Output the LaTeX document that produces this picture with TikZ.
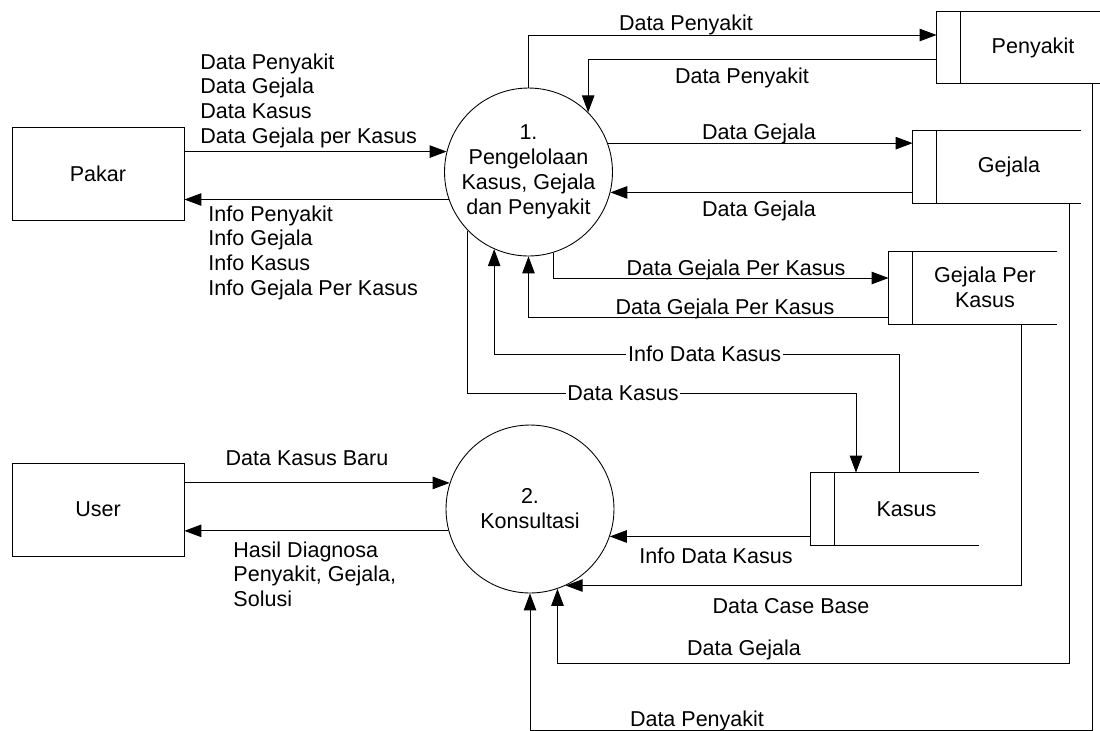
\documentclass[tikz,border=0pt]{standalone}
\usepackage{fontspec}
\setmainfont{Liberation Sans}
\usetikzlibrary{arrows.meta,positioning}

\begin{document}
\begin{tikzpicture}[x=0.02cm, y=-0.02cm, line width=0.5pt,
		every node/.style={font=\fontsize{12.25}{14.2}\selectfont, inner sep=0pt},
		entity/.style={draw, rectangle, minimum width=3.44cm, minimum height=1.86cm},
		process/.style={draw, circle, minimum size=3.36cm, align=center},
		store/.style={rectangle, minimum width=3.36cm, minimum height=1.44cm, align=center, execute at begin node={\hspace*{0.48cm}}},
		flow/.style={-{Triangle[length=0.34cm,width=0.25cm]}},
		inline/.style={fill=white, inner sep=1pt}]
		\useasboundingbox (0,0) rectangle (1100,731);
		% entities
		\node[entity] (pakar) at (98,173.5) {Pakar};
		\node[entity] (user) at (98,509.5) {User};
		% processes
		\node[process] (p1) at (528.5,172) {1.\\Pengelolaan\\Kasus, Gejala\\dan Penyakit};
		\node[process] (p2) at (530,509) {2.\\Konsultasi};
		% data stores
		\node[store] (pen) at (1021,47.5) {Penyakit};
		\node[store] (gej) at (997,167) {Gejala};
		\node[store] (gpk) at (973,287.5) {Gejala Per\\Kasus};
		\node[store] (kas) at (894.5,509) {Kasus};
		\foreach \s in {pen,gej,gpk,kas}{
			\draw (\s.north east) -- (\s.north west) -- (\s.south west) -- (\s.south east);
			\draw ([xshift=0.48cm]\s.north west) -- ([xshift=0.48cm]\s.south west);
		}
		% pakar
		\draw[flow] (pakar.east |- p1.166) -- (p1.166);
		\node[anchor=north west, align=left] (lpakar1) at (200,53) {Data Penyakit\\Data Gejala\\Data Kasus\\Data Gejala per Kasus};
		\draw[flow] (p1.199) -- (pakar.east |- p1.199);
		\node[anchor=north west, align=left] (lpakar2) at (208,205) {Info Penyakit\\Info Gejala\\Info Kasus\\Info Gejala Per Kasus};
		% penyakit
		\draw[flow] (p1.north) |- (pen.west |- 0,35);
		\node[anchor=base] (lpen1) at (686,30) {Data Penyakit};
		\draw[flow] (pen.west |- 0,59) -| (p1.45);
		\node[anchor=base] (lpen2) at (742,83) {Data Penyakit};
		% gejala
		\draw[flow] (p1.20) -- (gej.west |- p1.20);
		\node[anchor=base] (lgej1) at (759,139) {Data Gejala};
		\draw[flow] (gej.west |- p1.-14) -- (p1.-14);
		\node[anchor=base] (lgej2) at (759,216) {Data Gejala};
		% gejala per kasus
		\draw[flow] (p1.-73) |- (gpk.west |- 0,278);
		\node[anchor=base] (lgpk1) at (736,275) {Data Gejala Per Kasus};
		\draw[flow] (gpk.west |- 0,317) -| (p1.south);
		\node[anchor=base] (lgpk2) at (725,314) {Data Gejala Per Kasus};
		% kasus
		\draw[flow] (kas.north -| 899,0) |- node[inline, pos=0.74] (lkas1) {Info Data Kasus} (p1.-114 |- 0,354) -- (p1.-114);
		\draw[flow] (p1.-136) -- (p1.-136 |- 0,393) -| node[inline, pos=0.2] (lkas2) {Data Kasus} (kas.north -| 856,0);
		% user
		\draw[flow] (user.east |- p2.162) -- (p2.162);
		\node[anchor=base] (luser1) at (307,465) {Data Kasus Baru};
		\draw[flow] (p2.195) -- (user.east |- p2.195);
		\node[anchor=north west, align=left] (luser2) at (233,541) {Hasil Diagnosa\\Penyakit, Gejala,\\Solusi};
		% konsultasi
		\draw[flow] (kas.west |- p2.-19) -- (p2.-19);
		\node[anchor=base] (lkas3) at (716,563) {Info Data Kasus};
		\draw[flow] (gpk.south -| 1021,0) |- (p2.-65);
		\node[anchor=base] (lcase) at (791,613) {Data Case Base};
		\draw[flow] (gej.south -| 1069,0) -- (1069,663) -| (p2.-71);
		\node[anchor=base] (lgej3) at (744,655) {Data Gejala};
		\draw[flow] (pen.south -| 1092,0) -- (1092,730) -| (p2.south);
		\node[anchor=base] (lpen3) at (697,726) {Data Penyakit};
\end{tikzpicture}
\end{document}
